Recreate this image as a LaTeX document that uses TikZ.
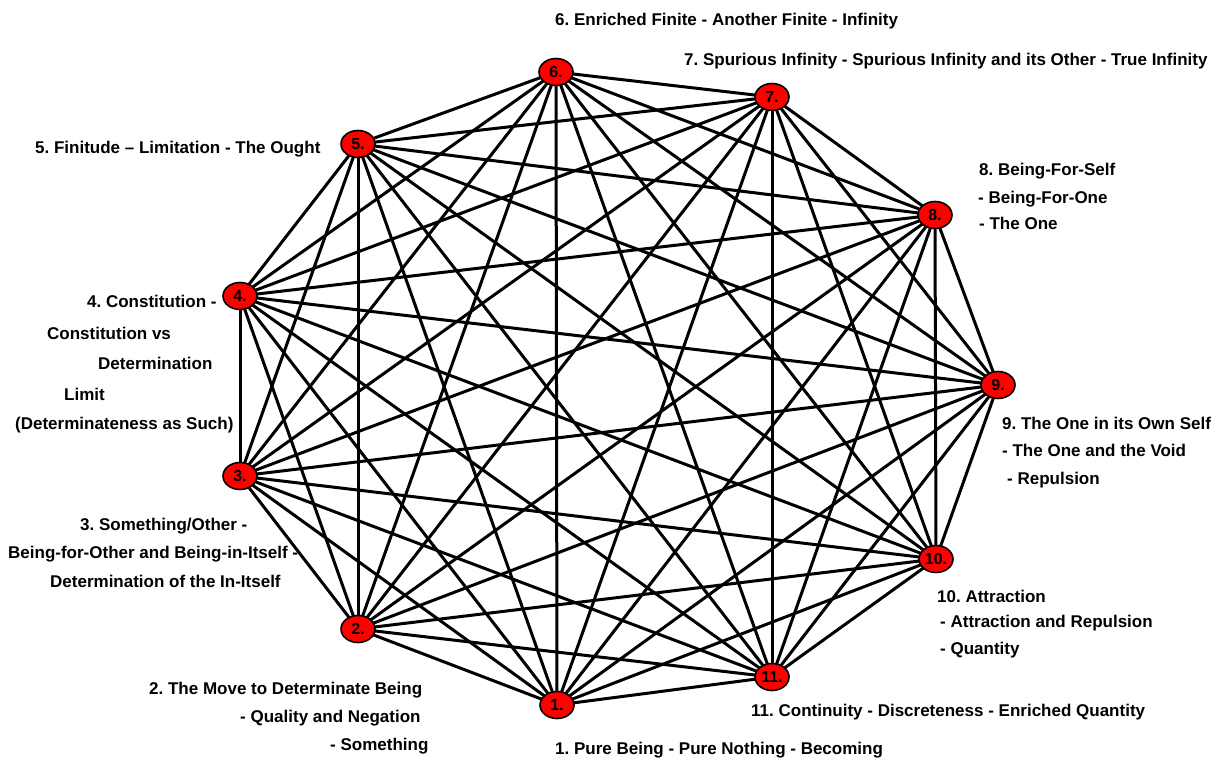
\documentclass[tikz,border=0pt]{standalone}
\usepackage{fontspec}
\setmainfont{Liberation Sans}
\usetikzlibrary{shapes.geometric,backgrounds}
\frenchspacing
\begin{document}
\begin{tikzpicture}[x=1pt,y=-1pt,
  stage/.style={ellipse,draw=black,line width=1.6pt,fill=red,minimum width=34pt,minimum height=27pt,inner sep=0pt,font=\fontsize{16}{16}\selectfont\bfseries},
  link/.style={line width=3pt,black},
  caption/.style={anchor=base west,inner sep=0pt,font=\fontsize{17}{17}\selectfont\bfseries}]
\useasboundingbox (0,0) rectangle (1226,760);
% the eleven stages
\node[stage] (n1)  at (557,705) {1.};
\node[stage] (n2)  at (358,629) {2.};
\node[stage] (n3)  at (240,476) {3.};
\node[stage] (n4)  at (240,296) {4.};
\node[stage] (n5)  at (358,144) {5.};
\node[stage] (n6)  at (556,72)  {6.};
\node[stage] (n7)  at (772,97)  {7.};
\node[stage] (n8)  at (935,215) {8.};
\node[stage] (n9)  at (998,385) {9.};
\node[stage] (n10) at (936,559) {10.};
\node[stage] (n11) at (772,677) {11.};
% every stage linked with every other
\begin{scope}[on background layer]
\foreach \i in {1,...,10}{
  \pgfmathtruncatemacro\nxt{\i+1}
  \foreach \j in {\nxt,...,11}{
    \draw[link] (n\i.center) -- (n\j.center);
  }
}
\end{scope}
% captions
\node[caption] (t6)  at (555,26)  {6. Enriched Finite - Another Finite - Infinity};
\node[caption] (t7)  at (684,66)  {7. Spurious Infinity - Spurious Infinity and its Other - True Infinity};
\node[caption] (t5)  at (35,153)  {5. Finitude – Limitation - The Ought};
\node[caption] (t8a) at (979,175) {8. Being-For-Self};
\node[caption] (t8b) at (978,203) {- Being-For-One};
\node[caption] (t8c) at (979,229) {- The One};
\node[caption] (t4a) at (87,307)  {4. Constitution -};
\node[caption] (t4b) at (47,339)  {Constitution vs};
\node[caption] (t4c) at (98,369)  {Determination};
\node[caption] (t4d) at (64,400)  {Limit};
\node[caption] (t4e) at (15,429)  {(Determinateness as Such)};
\node[caption] (t9a) at (1002,429) {9. The One in its Own Self};
\node[caption] (t9b) at (1002,456) {- The One and the Void};
\node[caption] (t9c) at (1007,484) {- Repulsion};
\node[caption] (t3a) at (80,530)  {3. Something/Other -};
\node[caption] (t3b) at (8,558)   {Being-for-Other and Being-in-Itself -};
\node[caption] (t3c) at (50,587)  {Determination of the In-Itself};
\node[caption] (t10a) at (937,602) {10. Attraction};
\node[caption] (t10b) at (940,627) {- Attraction and Repulsion};
\node[caption] (t10c) at (940,654) {- Quantity};
\node[caption] (t2a) at (149,694) {2. The Move to Determinate Being};
\node[caption] (t2b) at (240,722) {- Quality and Negation};
\node[caption] (t2c) at (330,750) {- Something};
\node[caption] (t11) at (751,716) {11. Continuity - Discreteness - Enriched Quantity};
\node[caption] (t1)  at (555,754) {1. Pure Being - Pure Nothing - Becoming};
\end{tikzpicture}
\end{document}
